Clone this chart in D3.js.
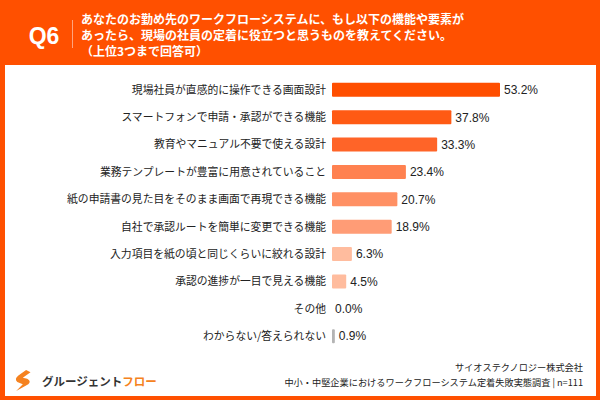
<!DOCTYPE html>
<html><head><meta charset="utf-8">
<script src="https://cdn.jsdelivr.net/npm/d3@7"></script>
<style>body{margin:0;background:#fff}svg{display:block}</style>
</head><body>
<svg id="c" width="600" height="400"></svg>
<script>
const categories = [
  "現場社員が直感的に操作できる画面設計",
  "スマートフォンで申請・承認ができる機能",
  "教育やマニュアル不要で使える設計",
  "業務テンプレートが豊富に用意されていること",
  "紙の申請書の見た目をそのまま画面で再現できる機能",
  "自社で承認ルートを簡単に変更できる機能",
  "入力項目を紙の頃と同じくらいに絞れる設計",
  "承認の進捗が一目で見える機能",
  "その他",
  "わからない/答えられない"
];
const values = [53.2, 37.8, 33.3, 23.4, 20.7, 18.9, 6.3, 4.5, 0.0, 0.9];
const barColors = ["#FF4E00","#FF5A14","#FF6428","#FF8150","#FF9064","#FF9C76","#FFBC9E","#FFBC9E","#FFBC9E","#B4B4B4"];
const titleLines = [
  "あなたのお勤め先のワークフローシステムに、もし以下の機能や要素が",
  "あったら、現場の社員の定着に役立つと思うものを教えてください。",
  "（上位3つまで回答可）"
];
const footerLines = [
  "サイオステクノロジー株式会社",
  "中小・中堅企業におけるワークフローシステム定着失敗実態調査 | n=111"
];

const svg = d3.select("#c");
const orange = "#FF5000";
const jp = "'Noto Sans CJK JP','Noto Sans',sans-serif";

// frame
svg.append("rect").attr("x",0).attr("y",0).attr("width",600).attr("height",400).attr("fill",orange);
svg.append("rect").attr("x",5).attr("y",65).attr("width",591).attr("height",331).attr("fill","#fff");

// header
svg.append("text").attr("x",44).attr("y",43.5).attr("text-anchor","middle")
  .attr("font-family","'Liberation Sans',Arial,sans-serif").attr("font-weight","bold")
  .attr("font-size",23).attr("fill","#fff").text("Q6");
svg.append("line").attr("x1",72.5).attr("x2",72.5).attr("y1",20).attr("y2",48)
  .attr("stroke","#FFA47E").attr("stroke-width",1);
const title = svg.append("text").attr("x",81).attr("y",24.3)
  .attr("font-family",jp).attr("font-weight","bold").attr("font-size",12)
  .attr("fill","#fff");
title.selectAll("tspan").data(titleLines).join("tspan")
  .attr("x",81).attr("y",(d,i)=>24.3+i*16).text(d=>d);

// chart
const x = d3.scaleLinear().domain([0,53.2]).range([332,500]);
const y = d3.scaleBand().domain(categories).range([76,350]).paddingInner(0.49).paddingOuter(0.25);

const g = svg.append("g");
g.selectAll("rect.bar").data(values).join("rect").attr("class","bar")
  .attr("x",x(0)).attr("y",(d,i)=>y(categories[i]))
  .attr("width",d=>x(d)-x(0)).attr("height",y.bandwidth())
  .attr("rx",1).attr("fill",(d,i)=>barColors[i]);

g.selectAll("text.lab").data(categories).join("text").attr("class","lab")
  .attr("x",326).attr("y",d=>y(d)+y.bandwidth()/2).attr("dy","0.36em")
  .attr("text-anchor","end").attr("font-family",jp).attr("font-size",10.8)
  .attr("fill","#222").text(d=>d);

g.selectAll("text.val").data(values).join("text").attr("class","val")
  .attr("x",d=>x(d)+ (d>0?4:3)).attr("y",(d,i)=>y(categories[i])+y.bandwidth()/2).attr("dy","0.36em")
  .attr("font-family","'Liberation Sans',Arial,sans-serif").attr("font-size",12)
  .attr("fill","#222").text(d=>d.toFixed(1)+"%");

// footer
const foot = svg.append("text").attr("text-anchor","end")
  .attr("font-family",jp).attr("font-size",9.2).attr("fill","#222");
foot.selectAll("tspan").data(footerLines).join("tspan")
  .attr("x",583).attr("y",(d,i)=>371+i*15).text(d=>d);

// logo
const lg = svg.append("g").attr("transform","translate(14,370) scale(1.1)");
lg.append("path").attr("d","M11,0 L4,5 Q0,8 3,11 L8,13 L2,19 L13,13 Q16,10 12,8 L8,7 L15,2 Z").attr("fill","#F58220");
const lt = svg.append("text").attr("x",42).attr("y",386).attr("font-family",jp)
  .attr("font-weight","bold").attr("font-size",11.5);
lt.append("tspan").attr("fill","#333").text("グルージェント");
lt.append("tspan").attr("fill","#F58220").text("フロー");
</script>
</body></html>
